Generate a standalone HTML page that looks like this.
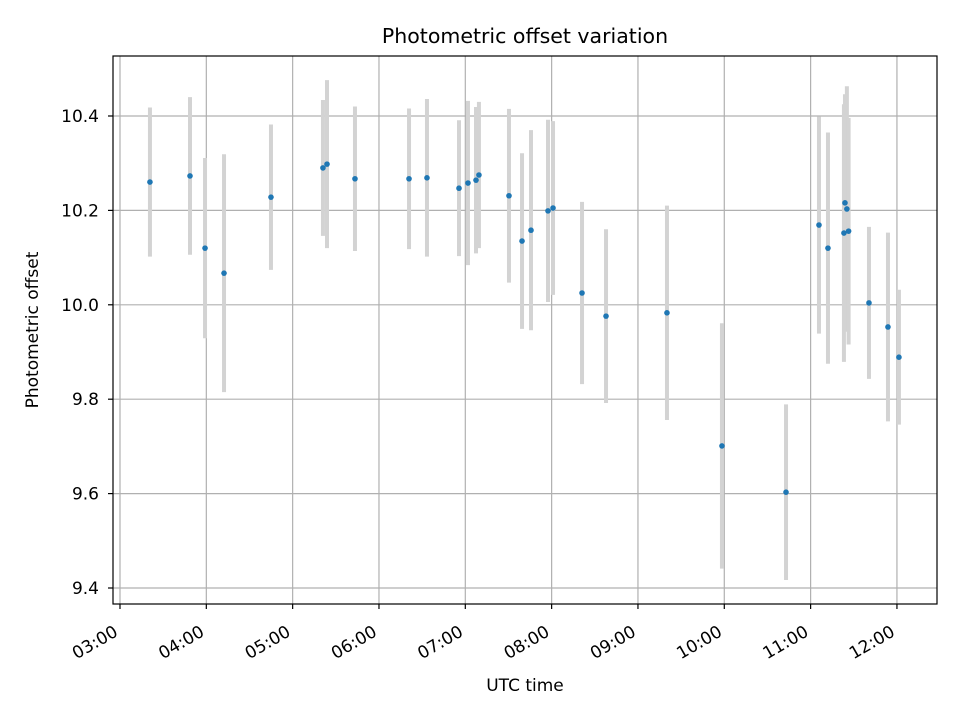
<!DOCTYPE html>
<html><head><meta charset="utf-8">
<style>
html,body{margin:0;padding:0;background:#fff;}
svg text{font-family:"DejaVu Sans","Liberation Sans",sans-serif;fill:#000;}
</style></head>
<body>
<svg id="chart" width="960" height="720" xmlns="http://www.w3.org/2000/svg" style="position:absolute;left:0;top:0"></svg>
<script>
const times = [3.347,3.811,3.985,4.205,4.749,5.351,5.398,5.722,6.348,6.556,6.927,7.031,7.124,7.158,7.506,7.657,7.761,7.958,8.016,8.352,8.630,9.336,9.973,10.715,11.097,11.201,11.386,11.398,11.420,11.440,11.676,11.896,12.023];
const offsets = [10.260,10.273,10.120,10.067,10.228,10.290,10.298,10.267,10.267,10.269,10.247,10.258,10.264,10.275,10.231,10.135,10.158,10.199,10.205,10.025,9.976,9.983,9.701,9.603,10.169,10.120,10.152,10.216,10.203,10.156,10.004,9.953,9.889];
const errors = [0.158,0.167,0.191,0.252,0.154,0.144,0.178,0.153,0.149,0.167,0.144,0.174,0.155,0.155,0.184,0.186,0.212,0.193,0.184,0.193,0.184,0.227,0.260,0.186,0.230,0.245,0.273,0.230,0.260,0.240,0.161,0.200,0.143];
const xTickHours = [3,4,5,6,7,8,9,10,11,12];
const xTickLabels = ["03:00","04:00","05:00","06:00","07:00","08:00","09:00","10:00","11:00","12:00"];
const yTicks = [9.4,9.6,9.8,10.0,10.2,10.4];
const yTickLabels = ["9.4","9.6","9.8","10.0","10.2","10.4"];

const L=113,R=937,T=56,B=604;
const xMin=2.919,xMax=12.464,yMin=9.3661,yMax=10.5271;
const xs=h=>L+(h-xMin)/(xMax-xMin)*(R-L);
const ys=v=>B-(v-yMin)/(yMax-yMin)*(B-T);
const svg=document.getElementById('chart');
const NS='http://www.w3.org/2000/svg';
function mk(tag,attrs,parent){const e=document.createElementNS(NS,tag);for(const k in attrs)e.setAttribute(k,attrs[k]);(parent||svg).appendChild(e);return e;}

const grid=mk('g',{});


xTickHours.forEach(h=>{mk('line',{x1:xs(h),x2:xs(h),y1:T,y2:B,stroke:'#b0b0b0','stroke-width':1.2},grid);});
yTicks.forEach(v=>{mk('line',{x1:L,x2:R,y1:ys(v),y2:ys(v),stroke:'#b0b0b0','stroke-width':1.2},grid);});

const eb=mk('g',{});


times.forEach((t,i)=>{
  const l=mk('line',{x1:xs(t),x2:xs(t),y1:ys(offsets[i]+errors[i]),y2:ys(offsets[i]-errors[i]),stroke:'#d3d3d3','stroke-width':4},eb);
  
  
});
const pts=mk('g',{});


times.forEach((t,i)=>{
  const c=mk('circle',{cx:xs(t),cy:ys(offsets[i]),r:2.8,fill:'#1f77b4'},pts);
  
  
});

const fr=mk('rect',{x:L,y:T,width:R-L,height:B-T,fill:'none',stroke:'#000','stroke-width':1.2});



const xt=mk('g',{});


xTickHours.forEach((h,i)=>{
  const x=xs(h);
  mk('line',{x1:x,x2:x,y1:B,y2:B+5,stroke:'#000','stroke-width':1.2},xt);
  const px=x-1, py=B+31;
  const tx=mk('text',{x:px,y:py,'font-size':17,'text-anchor':'end',transform:`rotate(-30 ${px} ${py})`},xt);
  
  
  tx.textContent=xTickLabels[i];
});
const yt=mk('g',{});


yTicks.forEach((v,i)=>{
  const y=ys(v);
  mk('line',{x1:L-5,x2:L,y1:y,y2:y,stroke:'#000','stroke-width':1.2},yt);
  const tx=mk('text',{x:L-14,y:y+6,'font-size':17,'text-anchor':'end'},yt);
  
  
  tx.textContent=yTickLabels[i];
});
</script>
<svg style="position:absolute;left:0;top:0" width="960" height="720" xmlns="http://www.w3.org/2000/svg">
<text x="525" y="43" font-size="20.5" text-anchor="middle">Photometric offset variation</text>
<text x="525" y="691" font-size="17" text-anchor="middle">UTC time</text>
<text x="38" y="330" font-size="17" text-anchor="middle" transform="rotate(-90 38 330)">Photometric offset</text>
</svg>
</body></html>
